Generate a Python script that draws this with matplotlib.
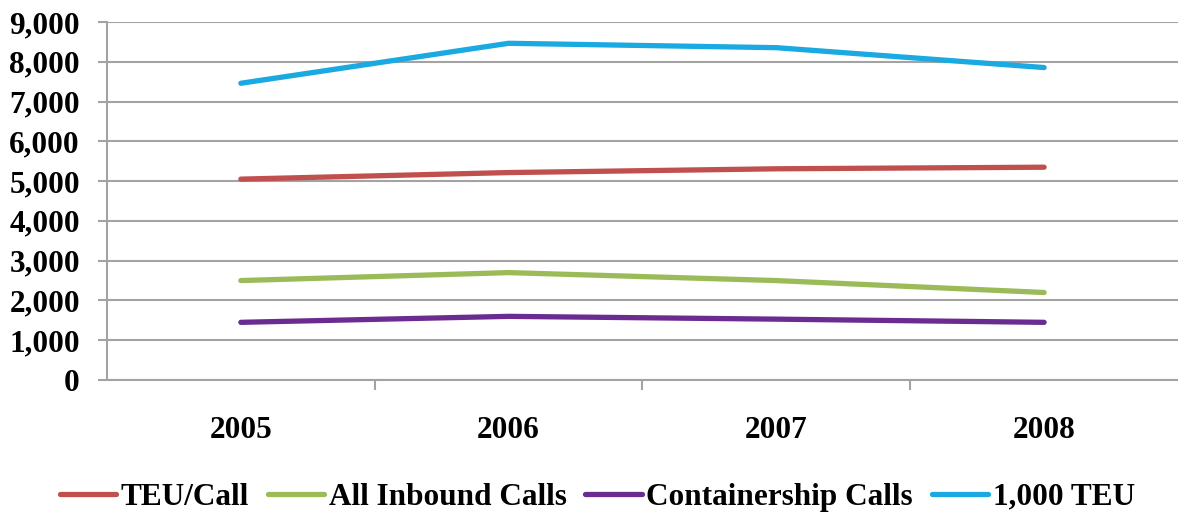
import matplotlib
matplotlib.use("Agg")
import matplotlib.pyplot as plt
from matplotlib.ticker import FuncFormatter, FixedLocator

years = ["2005", "2006", "2007", "2008"]
teu_per_call = [5050, 5215, 5310, 5350]
all_inbound_calls = [2500, 2700, 2500, 2200]
containership_calls = [1450, 1600, 1530, 1450]
thousand_teu = [7460, 8465, 8355, 7855]

series = [
    ("TEU/Call", teu_per_call, "#C0504D"),
    ("All Inbound Calls", all_inbound_calls, "#9BBB59"),
    ("Containership Calls", containership_calls, "#6B2C91"),
    ("1,000 TEU", thousand_teu, "#1AA9E0"),
]

plt.rcParams["font.family"] = ["Liberation Serif", "DejaVu Serif"]
plt.rcParams["font.weight"] = "bold"
grid_color = "#A3A3A3"
text_size = 22.5

fig = plt.figure(figsize=(11.78, 5.18), dpi=100)
ax = fig.add_axes([0.0908, 0.2664, 0.9092, 0.6911])

x = list(range(len(years)))
for label, values, color in series:
    ax.plot(x, values, color=color, linewidth=3.8, solid_capstyle="round", label=label, zorder=3)

ax.set_xlim(-0.5, len(years) - 0.5)
ax.set_ylim(0, 9000)
ax.set_yticks(range(0, 9001, 1000))
ax.yaxis.set_major_formatter(FuncFormatter(lambda v, _: f"{int(v):,}"))
ax.grid(axis="y", color=grid_color, linewidth=1.5, zorder=0)

ax.set_xticks(x)
ax.set_xticklabels(years)
ax.xaxis.set_minor_locator(FixedLocator([i + 0.5 for i in range(len(years) - 1)]))
ax.tick_params(axis="x", which="major", length=0, pad=26, labelsize=text_size)
ax.tick_params(axis="x", which="minor", length=7, width=1.5, color=grid_color, direction="out")
ax.tick_params(axis="y", length=6.5, width=1.5, color=grid_color, pad=13, labelsize=text_size)

for side in ("top", "right"):
    ax.spines[side].set_visible(False)
for side in ("left", "bottom"):
    ax.spines[side].set_color(grid_color)
    ax.spines[side].set_linewidth(1.5)

fig.legend(loc="center", bbox_to_anchor=(0.507, 0.04), ncol=4, frameon=False,
           fontsize=text_size, handlelength=1.8, handletextpad=0.15, columnspacing=0.6,
           borderaxespad=0)

fig.savefig("out.png", dpi=100)
